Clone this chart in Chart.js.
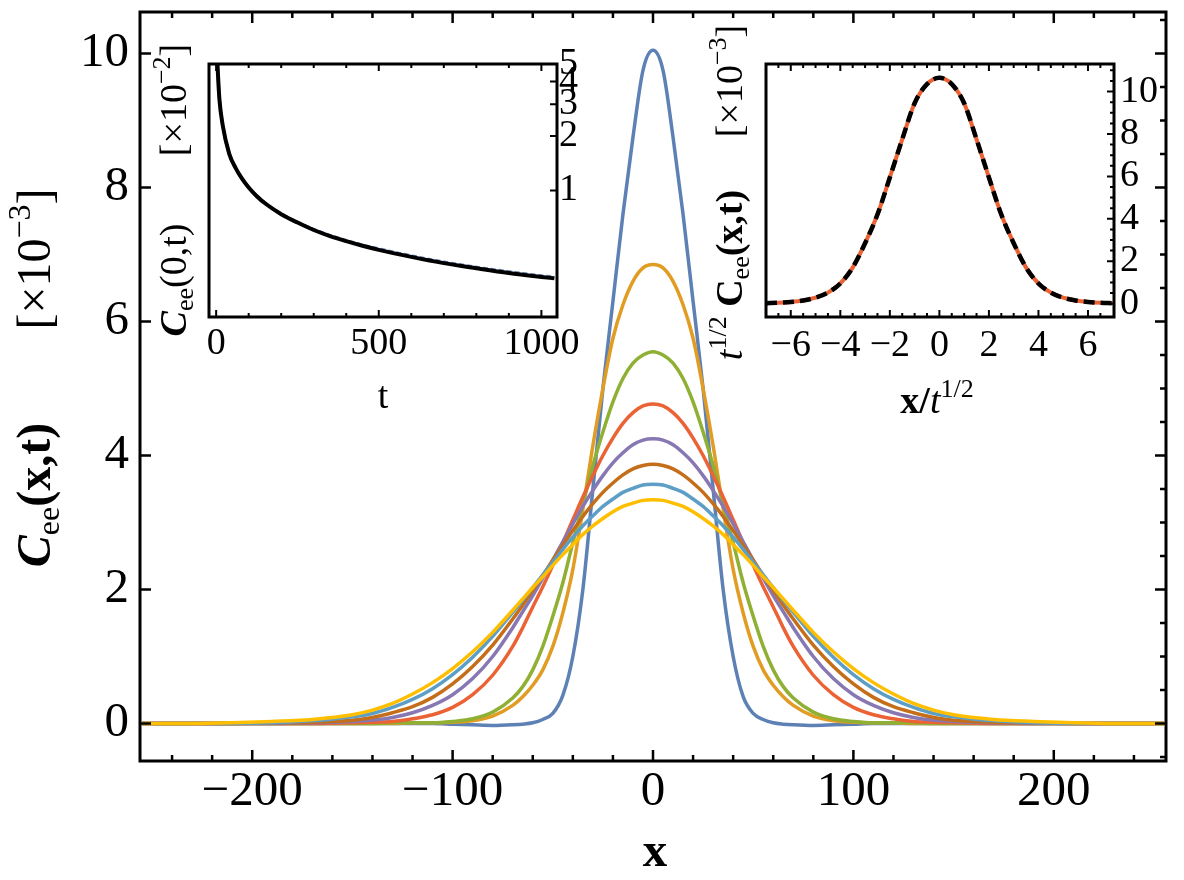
<!doctype html>
<html lang="en">
<head>
<meta charset="utf-8">
<title>Cee(x,t)</title>
<script src="https://cdn.jsdelivr.net/npm/chart.js@4.4.1/dist/chart.umd.min.js"></script>
<style>
  body { margin: 0; background: #fff; }
  #wrap { position: relative; width: 1184px; height: 880px; }
  #wrap canvas { position: absolute; }
</style>
</head>
<body>
<div id="wrap">
  <canvas id="main" width="1184" height="880" style="left:0;top:0"></canvas>
  <canvas id="insetL" width="460" height="400" style="left:150px;top:20px"></canvas>
  <canvas id="insetR" width="480" height="420" style="left:690px;top:10px"></canvas>
</div>
<script>
// ---- main panel: C_ee(x,t) [x10^-3] vs x, one curve per time ----
const xs = [-255,-230,-210,-190,-170,-150,-140,-130,-120,-110,-100,-90,-80,-70,-65,-60,-55,-50,-45,-40,-35,-30,-25,-20,-15,-10,-5,
            0,5,10,15,20,25,30,35,40,45,50,55,60,65,70,80,90,100,110,120,130,140,150,170,190,210,230,255];

const cBlue = [0,0,0,0,0,0,0,0,0,0,-0.01,-0.02,-0.03,-0.02,-0.01,0.01,0.06,0.15,0.42,1.0,2.0,3.5,5.0,6.3,7.6,8.75,9.75,
               10.05,9.75,8.75,7.6,6.3,5.0,3.5,2.0,1.0,0.4,0.15,0.06,0.01,-0.01,-0.02,-0.03,-0.02,-0.01,0,0,0,0,0,0,0,0,0,0];
const cOrange = [0,0,0,0,0,0,0,0,0.01,0.01,0.02,0.04,0.11,0.27,0.4,0.57,0.8,1.15,1.65,2.3,3.2,4.15,5.0,5.75,6.25,6.6,6.8,
                 6.85,6.8,6.6,6.25,5.75,5.0,4.15,3.2,2.3,1.65,1.15,0.8,0.57,0.4,0.27,0.11,0.04,0.02,0.01,0.01,0,0,0,0,0,0,0,0];
const cGreen = [0,0,0,0,0,0,0,0.01,0.01,0.01,0.03,0.07,0.17,0.38,0.55,0.8,1.15,1.6,2.1,2.7,3.27,3.85,4.35,4.8,5.15,5.38,5.5,
                5.55,5.5,5.38,5.15,4.8,4.35,3.85,3.27,2.7,2.1,1.6,1.15,0.8,0.55,0.38,0.17,0.07,0.03,0.01,0.01,0.01,0,0,0,0,0,0,0];
const cRed = [0,0,0,0,0,0.01,0.02,0.03,0.07,0.13,0.24,0.43,0.72,1.15,1.43,1.74,2.04,2.36,2.7,3.04,3.38,3.7,4.0,4.26,4.48,4.64,4.74,
              4.77,4.74,4.64,4.48,4.26,4.0,3.7,3.38,3.04,2.7,2.36,2.04,1.74,1.43,1.15,0.72,0.43,0.24,0.13,0.07,0.03,0.02,0.01,0,0,0,0,0];
const cPurple = [0,0,0,0,0.01,0.03,0.05,0.09,0.16,0.27,0.43,0.67,1.0,1.43,1.67,1.91,2.17,2.44,2.71,2.98,3.24,3.48,3.7,3.89,4.04,4.16,4.23,
                 4.25,4.23,4.16,4.04,3.89,3.7,3.48,3.24,2.98,2.71,2.44,2.17,1.91,1.67,1.43,1.0,0.67,0.43,0.27,0.16,0.09,0.05,0.03,0.01,0,0,0,0];
const cBrown = [0,0,0,0.01,0.02,0.05,0.09,0.16,0.25,0.39,0.59,0.85,1.17,1.56,1.77,1.99,2.21,2.44,2.66,2.88,3.09,3.28,3.45,3.59,3.71,3.8,3.85,
                3.87,3.85,3.8,3.71,3.59,3.45,3.28,3.09,2.88,2.66,2.44,2.21,1.99,1.77,1.56,1.17,0.85,0.59,0.39,0.25,0.16,0.09,0.05,0.02,0.01,0,0,0];
const cSky = [0,0,0,0.01,0.04,0.1,0.15,0.24,0.36,0.52,0.73,0.99,1.3,1.66,1.84,2.03,2.22,2.41,2.6,2.78,2.95,3.1,3.24,3.35,3.45,3.51,3.56,
              3.57,3.56,3.51,3.45,3.35,3.24,3.1,2.95,2.78,2.6,2.41,2.22,2.03,1.84,1.66,1.3,0.99,0.73,0.52,0.36,0.24,0.15,0.1,0.04,0.01,0,0,0];
const cYellow = [0,0,0.01,0.03,0.06,0.13,0.2,0.3,0.44,0.61,0.82,1.07,1.36,1.69,1.86,2.03,2.19,2.36,2.52,2.67,2.82,2.95,3.06,3.16,3.24,3.29,3.33,
                 3.34,3.33,3.29,3.24,3.16,3.06,2.95,2.82,2.67,2.52,2.36,2.19,2.03,1.86,1.69,1.36,1.07,0.82,0.61,0.44,0.3,0.2,0.13,0.06,0.03,0.01,0,0];

const mainSeries = [cBlue, cOrange, cGreen, cRed, cPurple, cBrown, cSky, cYellow];
const mainColors = ['#5E81B5', '#E19C24', '#8FB032', '#EB6235', '#8778B3', '#C56E1A', '#5D9EC7', '#FFBF00'];

const xTicks = [-200, -100, 0, 100, 200];
const yTicks = [0, 2, 4, 6, 8, 10];

// ---- left inset: C_ee(0,t) [x10^-2], log axis ----
const tVals = [3,5,10,20,40,60,80,100,125,150,200,250,300,350,400,450,500,600,700,800,900,1000,1040];
const c0Data = [5.7,4.6,3.25,2.3,1.6,1.33,1.16,1.04,0.935,0.855,0.745,0.67,0.61,0.565,0.53,0.5,0.476,0.436,0.403,0.377,0.356,0.338,0.333];
const c0Fit  = [5.6,4.6,3.2,2.3,1.6,1.33,1.16,1.04,0.93,0.85,0.74,0.665,0.605,0.56,0.525,0.495,0.47,0.43,0.397,0.372,0.35,0.333,0.327];
const tTicks = [0, 500, 1000];
const logTicks = [1, 2, 3, 4, 5];

// ---- right inset: t^1/2 C_ee(x,t) [x10^-3] vs x/t^1/2 ----
const uVals = [-7,-6.5,-6,-5.5,-5,-4.5,-4,-3.5,-3,-2.5,-2,-1.5,-1,-0.5,0,0.5,1,1.5,2,2.5,3,3.5,4,4.5,5,5.5,6,6.5,7];
const scaledData = [0.02,0.04,0.08,0.15,0.28,0.52,0.95,1.7,2.85,4.2,5.95,7.75,9.45,10.35,10.65,10.35,9.45,7.75,5.95,4.2,2.85,1.7,0.95,0.52,0.28,0.15,0.08,0.04,0.02];
const scaledFit  = [0.02,0.04,0.08,0.15,0.28,0.52,0.95,1.7,2.85,4.2,5.95,7.75,9.45,10.35,10.65,10.35,9.45,7.75,5.95,4.2,2.85,1.7,0.95,0.52,0.28,0.15,0.08,0.04,0.02];
const uTicks = [-6, -4, -2, 0, 2, 4, 6];
const sTicks = [0, 2, 4, 6, 8, 10];

const F = "'Liberation Serif', 'DejaVu Serif', serif";

function range(a, b, step) {
  const out = [];
  for (let v = a; v <= b + 1e-9; v += step) out.push(Math.round(v * 1000) / 1000);
  return out;
}
function fmt(v) { return v < 0 ? '\u2212' + Math.abs(v) : String(v); }
function pts(xv, yv) { return xv.map(function (x, i) { return { x: x, y: yv[i] }; }); }

// draw a label made of pieces (sub/superscripts), centred on (x, baseline y)
function rich(ctx, parts, x, y, rot) {
  ctx.save();
  ctx.translate(x, y);
  ctx.rotate(rot || 0);
  let w = 0;
  parts.forEach(function (p) { ctx.font = p[1]; w += ctx.measureText(p[0]).width; });
  let cx = -w / 2;
  ctx.fillStyle = '#000';
  ctx.textAlign = 'left';
  ctx.textBaseline = 'alphabetic';
  parts.forEach(function (p) {
    ctx.font = p[1];
    ctx.fillText(p[0], cx, p[2] || 0);
    cx += ctx.measureText(p[0]).width;
  });
  ctx.restore();
}

// frame box with inward ticks (Mathematica style) + axis titles
const frame = {
  id: 'frame',
  afterDatasetsDraw(chart, args, o) {
    const ctx = chart.ctx, a = chart.chartArea;
    ctx.save();
    ctx.strokeStyle = '#000';
    ctx.lineWidth = o.tickWidth;
    ctx.beginPath();
    o.marks.forEach(function (m) {
      const sc = chart.scales[m.scale];
      m.values.forEach(function (v) {
        const p = sc.getPixelForValue(v);
        m.sides.forEach(function (side) {
          if (side === 'bottom' || side === 'top') {
            if (p < a.left + 2 || p > a.right - 2) return;
          } else if (p < a.top + 2 || p > a.bottom - 2) return;
          if (side === 'bottom') { ctx.moveTo(p, a.bottom); ctx.lineTo(p, a.bottom - m.len); }
          if (side === 'top') { ctx.moveTo(p, a.top); ctx.lineTo(p, a.top + m.len); }
          if (side === 'left') { ctx.moveTo(a.left, p); ctx.lineTo(a.left + m.len, p); }
          if (side === 'right') { ctx.moveTo(a.right, p); ctx.lineTo(a.right - m.len, p); }
        });
      });
    });
    ctx.stroke();
    ctx.lineWidth = o.width;
    ctx.strokeRect(a.left, a.top, a.right - a.left, a.bottom - a.top);
    (o.titles || []).forEach(function (t) { rich(ctx, t.parts, t.x, t.y, t.rot); });
    ctx.restore();
  }
};

function axis(opts) {
  return Object.assign({
    type: 'linear',
    grid: { display: false, drawTicks: false },
    border: { display: false }
  }, opts);
}

// fix axis size and drop the label overhang padding chart.js adds
function fixH(h) { return function (s) { s.height = h; s.paddingLeft = 0; s.paddingRight = 0; }; }
function fixW(w) { return function (s) { s.width = w; s.paddingTop = 0; s.paddingBottom = 0; }; }

const base = {
  responsive: false,
  animation: false,
  devicePixelRatio: 1,
  events: [],
  elements: { point: { radius: 0 }, line: { cubicInterpolationMode: 'monotone' } },
};

// main chart
new Chart(document.getElementById('main'), {
  type: 'line',
  data: {
    datasets: mainSeries.map(function (s, i) {
      return { data: pts(xs, s), borderColor: mainColors[i], borderWidth: 3.5, fill: false, order: mainSeries.length - i };
    })
  },
  options: Object.assign({}, base, {
    layout: { padding: { left: 0, right: 18, top: 12, bottom: 0 } },
    plugins: {
      legend: { display: false }, tooltip: { enabled: false },
      frame: {
        width: 3, tickWidth: 2.5,
        marks: [
          { scale: 'x', values: xTicks, sides: ['bottom', 'top'], len: 11 },
          { scale: 'x', values: range(-240, 240, 20), sides: ['bottom', 'top'], len: 6 },
          { scale: 'y', values: yTicks, sides: ['left', 'right'], len: 11 },
          { scale: 'y', values: range(-0.5, 10.5, 0.5), sides: ['right'], len: 6 }
        ],
        titles: [
          { parts: [['x', 'bold 49px ' + F, 0]], x: 655, y: 866 },
          { parts: [['C', 'italic bold 48px ' + F, 0], ['ee', '32px ' + F, 9], ['(x,t)', 'bold 48px ' + F, 0]], x: 50, y: 495, rot: -Math.PI / 2 },
          { parts: [['[\u00d710', '48px ' + F, 0], ['\u22123', '32px ' + F, -20], [']', '48px ' + F, 0]], x: 50, y: 259, rot: -Math.PI / 2 }
        ]
      }
    },
    scales: {
      x: axis({
        min: -256, max: 256,
        afterBuildTicks: function (s) { s.ticks = xTicks.map(function (v) { return { value: v }; }); },
        afterFit: fixH(119),
        ticks: { color: '#000', autoSkip: false, maxRotation: 0, minRotation: 0, callback: fmt, padding: 2, font: { family: F, size: 49 } }
      }),
      y: axis({
        min: -0.56, max: 10.62,
        afterBuildTicks: function (s) { s.ticks = yTicks.map(function (v) { return { value: v }; }); },
        afterFit: fixW(140),
        ticks: { color: '#000', autoSkip: false, callback: fmt, padding: 11, font: { family: F, size: 49 } }
      })
    }
  }),
  plugins: [frame]
});

// left inset
new Chart(document.getElementById('insetL'), {
  type: 'line',
  data: {
    datasets: [
      { data: pts(tVals, c0Fit), borderColor: '#000', borderWidth: 4, fill: false, order: 0 },
      { data: pts(tVals, c0Data), borderColor: '#5E81B5', borderWidth: 3, borderDash: [5, 3], fill: false, order: 1 }
    ]
  },
  options: Object.assign({}, base, {
    layout: { padding: { left: 59, right: 0, top: 44, bottom: 0 } },
    plugins: {
      legend: { display: false }, tooltip: { enabled: false },
      frame: {
        width: 3, tickWidth: 2,
        marks: [
          { scale: 'x', values: tTicks, sides: ['bottom', 'top'], len: 7 },
          { scale: 'x', values: range(100, 900, 100), sides: ['bottom', 'top'], len: 4 },
          { scale: 'y', values: logTicks, sides: ['right'], len: 7 }
        ],
        titles: [
          { parts: [['t', '38px ' + F, 0]], x: 233, y: 388 },
          { parts: [['C', 'italic bold 38px ' + F, 0], ['ee', '26px ' + F, 7], ['(0,t)', '38px ' + F, 0]], x: 36, y: 260, rot: -Math.PI / 2 },
          { parts: [['[\u00d710', '38px ' + F, 0], ['\u22122', '26px ' + F, -16], [']', '38px ' + F, 0]], x: 36, y: 80, rot: -Math.PI / 2 }
        ]
      }
    },
    scales: {
      x: axis({
        min: -22, max: 1048,
        afterBuildTicks: function (s) { s.ticks = tTicks.map(function (v) { return { value: v }; }); },
        afterFit: fixH(103),
        ticks: { color: '#000', autoSkip: false, maxRotation: 0, minRotation: 0, callback: fmt, padding: 4, font: { family: F, size: 38 } }
      }),
      y: axis({
        type: 'logarithmic', position: 'right',
        min: 0.2, max: 5,
        afterBuildTicks: function (s) { s.ticks = logTicks.map(function (v) { return { value: v }; }); },
        afterFit: fixW(53),
        ticks: { color: '#000', autoSkip: false, callback: function (v) { return String(v); }, padding: 2, font: { family: F, size: 38 } }
      })
    }
  }),
  plugins: [frame]
});

// right inset
new Chart(document.getElementById('insetR'), {
  type: 'line',
  data: {
    datasets: [
      { data: pts(uVals, scaledFit), borderColor: '#000', borderWidth: 4.5, borderDash: [11, 6], fill: false, order: 0 },
      { data: pts(uVals, scaledData), borderColor: '#EB6235', borderWidth: 4, fill: false, order: 1 }
    ]
  },
  options: Object.assign({}, base, {
    layout: { padding: { left: 76, right: 0, top: 54, bottom: 0 } },
    plugins: {
      legend: { display: false }, tooltip: { enabled: false },
      frame: {
        width: 3, tickWidth: 2,
        marks: [
          { scale: 'x', values: uTicks, sides: ['bottom', 'top'], len: 7 },
          { scale: 'x', values: range(-6.5, 6.5, 0.5), sides: ['bottom', 'top'], len: 4 },
          { scale: 'y', values: sTicks, sides: ['right'], len: 7 },
          { scale: 'y', values: range(0.5, 11, 0.5), sides: ['right'], len: 4 }
        ],
        titles: [
          { parts: [['x/', 'bold 38px ' + F, 0], ['t', 'italic 38px ' + F, 0], ['1/2', '26px ' + F, -16]], x: 247, y: 403 },
          { parts: [['t', 'italic 38px ' + F, 0], ['1/2', '26px ' + F, -16], [' C', 'bold 38px ' + F, 0], ['ee', '26px ' + F, 7], ['(x,t)', 'bold 38px ' + F, 0]], x: 52, y: 265, rot: -Math.PI / 2 },
          { parts: [['[\u00d710', '38px ' + F, 0], ['\u22123', '26px ' + F, -16], [']', '38px ' + F, 0]], x: 52, y: 71, rot: -Math.PI / 2 }
        ]
      }
    },
    scales: {
      x: axis({
        min: -7, max: 7.05,
        afterBuildTicks: function (s) { s.ticks = uTicks.map(function (v) { return { value: v }; }); },
        afterFit: fixH(113),
        ticks: { color: '#000', autoSkip: false, maxRotation: 0, minRotation: 0, callback: fmt, padding: 6, font: { family: F, size: 38 } }
      }),
      y: axis({
        position: 'right',
        min: -0.63, max: 11.3,
        afterBuildTicks: function (s) { s.ticks = sTicks.map(function (v) { return { value: v }; }); },
        afterFit: fixW(56),
        ticks: { color: '#000', autoSkip: false, callback: fmt, padding: 6, font: { family: F, size: 38 } }
      })
    }
  }),
  plugins: [frame]
});
</script>
</body>
</html>
